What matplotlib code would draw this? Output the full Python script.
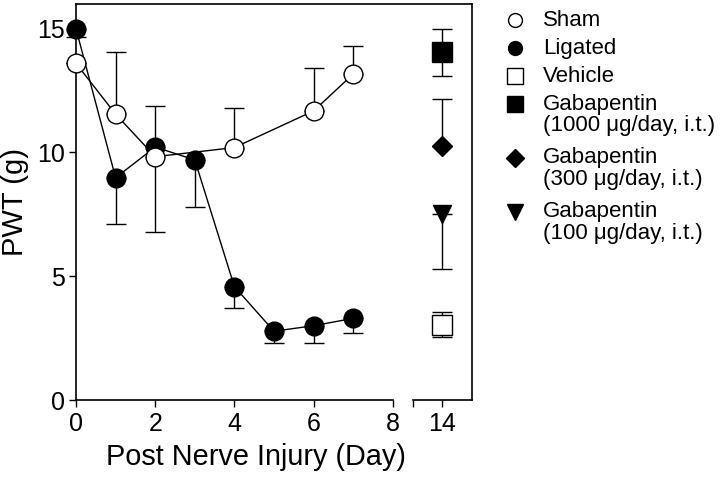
import matplotlib
matplotlib.use("Agg")
import matplotlib.pyplot as plt

plt.rcParams['font.family'] = ['Liberation Sans', 'DejaVu Sans']

# time course (days 0-7)
sham_day = [0, 1, 2, 4, 6, 7]
sham_pwt = [13.6, 11.55, 9.83, 10.2, 11.68, 13.17]
sham_err_up = [0.0, 2.5, 2.06, 1.6, 1.73, 1.12]

lig_day = [0, 1, 2, 3, 4, 5, 6, 7]
lig_pwt = [15.0, 8.98, 10.22, 9.7, 4.58, 2.78, 3.0, 3.3]
lig_err_dn = [0.35, 1.86, 3.42, 1.9, 0.86, 0.47, 0.69, 0.6]

# day 14 groups
d14_labels = ["Vehicle", "Gabapentin\n(1000 \u03bcg/day, i.t.)",
              "Gabapentin\n(300 \u03bcg/day, i.t.)", "Gabapentin\n(100 \u03bcg/day, i.t.)"]
d14_pwt = [3.03, 14.05, 10.25, 7.5]
d14_err_dn = [0.5, 0.95, 0.0, 2.2]
d14_err_up = [0.52, 0.95, 1.92, 0.0]
d14_marker = ['s', 's', 'D', 'v']
d14_size = [14, 14, 10.2, 13]
d14_face = ['white', 'black', 'black', 'black']

x_ticks = [0, 2, 4, 6, 8]


def pos(day):
    # broken axis: days after 8 are pulled in next to the first segment
    return day if day <= 8 else day - 4.75


fig = plt.figure(figsize=(7.2, 4.78), dpi=100)
ax = fig.add_axes([76 / 720, 78 / 478, 396 / 720, 396 / 478])

ax.errorbar(lig_day, lig_pwt, yerr=[lig_err_dn, [0] * len(lig_day)], color='black',
            marker='o', ms=13.5, mfc='black', mec='black', lw=1, elinewidth=1,
            capsize=7, capthick=1, zorder=3, clip_on=False)
ax.errorbar(sham_day, sham_pwt, yerr=[[0] * len(sham_day), sham_err_up], color='black',
            marker='o', ms=13.5, mfc='white', mec='black', mew=1, lw=1, elinewidth=1,
            capsize=7, capthick=1, zorder=4, clip_on=False)

for i in range(len(d14_pwt)):
    ax.errorbar([pos(14)], [d14_pwt[i]], yerr=[[d14_err_dn[i]], [d14_err_up[i]]],
                color='black', marker=d14_marker[i], ms=d14_size[i], mfc=d14_face[i],
                mec='black', mew=1, elinewidth=1, capsize=7, capthick=1, zorder=3)

ax.set_xlim(0, 10)
ax.set_ylim(0, 16)
ax.spines['bottom'].set_visible(False)
for s in ['left', 'top', 'right']:
    ax.spines[s].set_linewidth(1.2)
ax.plot([0, 8], [0, 0], color='black', lw=1.2, clip_on=False, zorder=5)
ax.plot([pos(13.25), 10], [0, 0], color='black', lw=1.2, clip_on=False, zorder=5)

ax.set_xticks([pos(d) for d in x_ticks] + [pos(13.25), pos(14)])
ax.set_xticklabels([str(d) for d in x_ticks] + ['', '14'])
ax.set_yticks([0, 5, 10, 15])
ax.tick_params(axis='x', direction='out', length=5, width=1, labelsize=18, pad=3.5)
ax.tick_params(axis='y', direction='out', length=5, width=1, labelsize=18, pad=3)

ax.set_xlabel("Post Nerve Injury (Day)", fontsize=20.8)
ax.set_ylabel("PWT (g)", fontsize=21)
ax.xaxis.set_label_coords(0.455, -0.108)
ax.yaxis.set_label_coords(-0.119, 0.5)

# legend, drawn by hand so the marker sits next to the first line
lax = fig.add_axes([0, 0, 1, 1])
lax.set_xlim(0, 720)
lax.set_ylim(478, 0)
lax.axis('off')

leg_labels = ["Sham", "Ligated"] + d14_labels
leg_marker = ['o', 'o'] + d14_marker
leg_face = ['white', 'black'] + d14_face
leg_size = [10, 10, 12, 12, 9.2, 11.5]

y = 20
for lab, m, fc, ms in zip(leg_labels, leg_marker, leg_face, leg_size):
    lax.plot([515], [y], marker=m, ms=ms, mfc=fc, mec='black', mew=1, ls='none')
    lines = lab.split("\n")
    for k, line in enumerate(lines):
        lax.text(543, y + 21 * k, line, fontsize=16, va='center', ha='left')
    y += 28 + 26 * (len(lines) - 1)

fig.savefig("out.png", dpi=100)
